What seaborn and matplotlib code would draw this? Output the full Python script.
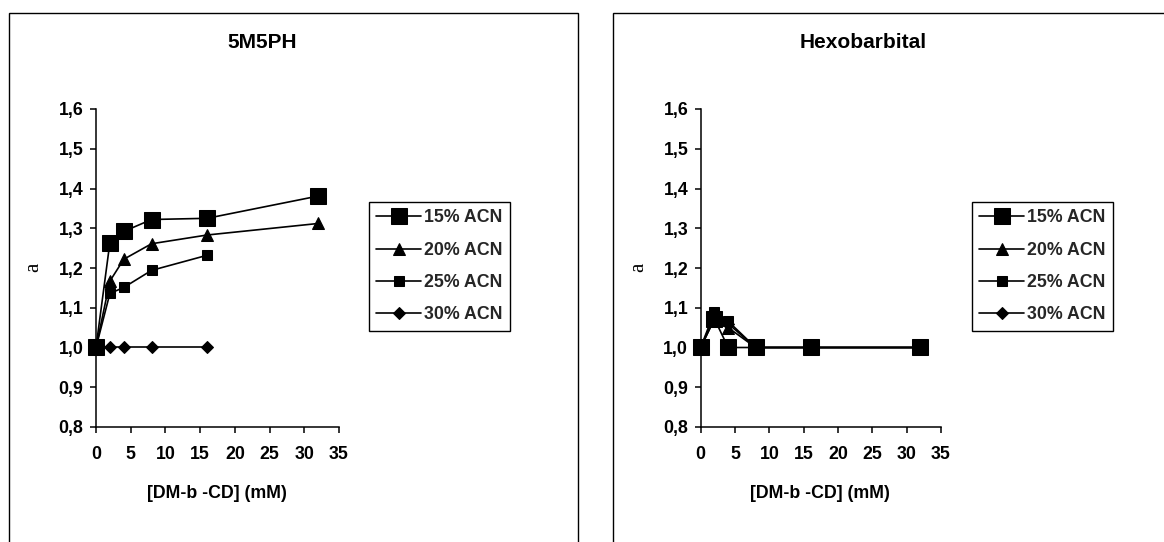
import matplotlib
matplotlib.use("Agg")
import matplotlib.pyplot as plt
import seaborn as sns
import pandas as pd
from matplotlib.patches import Rectangle

# ---- data ----
conc = [0, 2, 4, 8, 16, 32]
series_labels = ["15% ACN", "20% ACN", "25% ACN", "30% ACN"]

m5ph_15 = [1.0, 1.264, 1.292, 1.322, 1.325, 1.381]
m5ph_20 = [1.0, 1.167, 1.222, 1.261, 1.283, 1.312]
m5ph_25 = [1.0, 1.136, 1.151, 1.194, 1.232]
m5ph_30 = [1.0, 1.0, 1.0, 1.0, 1.0]

hexo_15 = [1.0, 1.072, 1.0, 1.0, 1.0, 1.0]
hexo_20 = [1.0, 1.080, 1.050, 1.0, 1.0, 1.0]
hexo_25 = [1.0, 1.090, 1.066, 1.0, 1.0, 1.0]
hexo_30 = [1.0, 1.072, 1.060, 1.0, 1.0, 1.0]

titles = ["5M5PH", "Hexobarbital"]
yticks = [0.8, 0.9, 1.0, 1.1, 1.2, 1.3, 1.4, 1.5, 1.6]
ytick_labels = ["0,8", "0,9", "1,0", "1,1", "1,2", "1,3", "1,4", "1,5", "1,6"]
xticks = [0, 5, 10, 15, 20, 25, 30, 35]
xlabel = "[DM-b -CD] (mM)"
ylabel = "a"

panels = [
    [m5ph_15, m5ph_20, m5ph_25, m5ph_30],
    [hexo_15, hexo_20, hexo_25, hexo_30],
]

# ---- styling ----
sns.set_theme(style="white")
plt.rcParams["font.family"] = ["Liberation Sans", "DejaVu Sans"]
plt.rcParams["font.weight"] = "bold"

markers = ["s", "^", "s", "D"]
msizes = [11, 8, 6.5, 6]
FS = 12.8

W, H = 1164, 542
fig = plt.figure(figsize=(W / 100, H / 100), dpi=100)

# panel frames
fig.patches.append(Rectangle((9 / W, -0.1), (578 - 9) / W, 1.1 - 13 / H,
                             transform=fig.transFigure, fill=False,
                             edgecolor="black", linewidth=1.0))
fig.patches.append(Rectangle((613 / W, -0.1), 0.5, 1.1 - 13 / H,
                             transform=fig.transFigure, fill=False,
                             edgecolor="black", linewidth=1.0))

ax_lefts = [96 / W, 700.7 / W]
ax_widths = [243 / W, 240.3 / W]
ax_bottom = 1 - 427 / H
ax_height = (427 - 109) / H
title_x = [262 / W, 863 / W]
legend_x = [369 / W, 972 / W]

for i, vals in enumerate(panels):
    ax = fig.add_axes([ax_lefts[i], ax_bottom, ax_widths[i], ax_height])
    for j, yv in enumerate(vals):
        df = pd.DataFrame({"x": conc[:len(yv)], "y": yv})
        sns.lineplot(data=df, x="x", y="y", ax=ax, color="black",
                     marker=markers[j], markersize=msizes[j],
                     markeredgecolor="black", markerfacecolor="black",
                     linewidth=1.2, label=series_labels[j], clip_on=False,
                     zorder=3 + (3 - j) * 0.1)
    ax.set_xlim(0, 35)
    ax.set_ylim(0.8, 1.6)
    ax.set_xticks(xticks)
    ax.set_xticklabels([str(t) for t in xticks])
    ax.set_yticks(yticks)
    ax.set_yticklabels(ytick_labels)
    for s in ["top", "right"]:
        ax.spines[s].set_visible(False)
    for s in ["left", "bottom"]:
        ax.spines[s].set_color("black")
        ax.spines[s].set_linewidth(1.1)
    ax.tick_params(axis="both", direction="out", length=4, width=1.1,
                   colors="black", labelsize=FS)
    ax.tick_params(axis="x", pad=10)
    ax.tick_params(axis="y", pad=5)
    ax.tick_params(bottom=True, left=True)
    for lab in ax.get_xticklabels() + ax.get_yticklabels():
        lab.set_fontweight("bold")
    ax.set_xlabel(xlabel, fontsize=FS, fontweight="bold", color="black")
    ax.xaxis.set_label_coords(0.498, -0.182)
    ax.set_ylabel(ylabel, fontsize=15, fontweight="normal", color="black",
                  family=["Liberation Serif", "DejaVu Serif"])
    ax.yaxis.set_label_coords(-0.218, 0.503)
    ax.patch.set_alpha(0)

    fig.text(title_x[i], 1 - 43 / H, titles[i], ha="center", va="center",
             fontsize=15, fontweight="bold", color="black")

    handles, labels = ax.get_legend_handles_labels()
    if ax.get_legend():
        ax.get_legend().remove()
    leg = fig.legend(handles, labels, loc="upper left",
                     bbox_to_anchor=(legend_x[i], 1 - 202 / H),
                     bbox_transform=fig.transFigure, borderaxespad=0,
                     frameon=True, fancybox=False, edgecolor="black",
                     framealpha=1, handlelength=2.5,
                     handletextpad=0.15, labelspacing=0.86, borderpad=0.42,
                     prop={"weight": "bold", "size": FS})
    leg.get_frame().set_linewidth(1.0)

fig.savefig("out.png", dpi=100)
